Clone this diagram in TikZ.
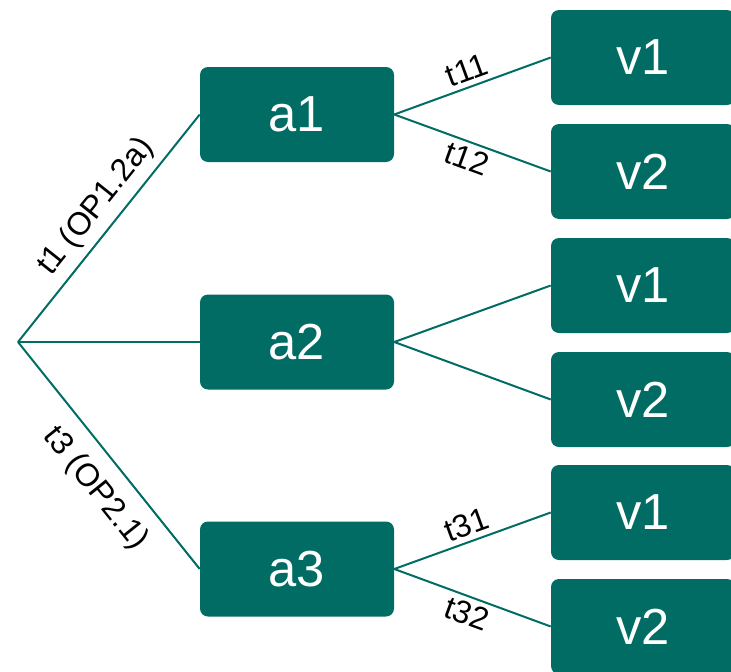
\documentclass[tikz,border=0pt]{standalone}
\usepackage{fontspec}
\setmainfont{Liberation Sans}
\definecolor{teal}{RGB}{0,108,100}
\begin{document}
\begin{tikzpicture}[x=0.75pt,y=-0.75pt,
  box/.style={fill=teal,rounded corners=6pt,text=white,minimum height=71.25pt,
    font=\fontsize{38}{40}\selectfont},
  abox/.style={box,minimum width=145.5pt},
  vbox/.style={box,minimum width=138pt},
  edge/.style={draw=teal,line width=1.5pt},
  lbl/.style={font=\fontsize{24}{28}\selectfont,sloped,midway}]
\clip(0,0)rectangle(731,671);%枠
\coordinate(root)at(18,342);%根
\node[abox](a1)at(297,114.5){a1};
\node[abox](a2)at(297,342){a2};
\node[abox](a3)at(297,569){a3};
\node[vbox](v11)at(643,57.5){v1};
\node[vbox](v12)at(643,171.5){v2};
\node[vbox](v21)at(643,285.5){v1};
\node[vbox](v22)at(643,399.5){v2};
\node[vbox](v31)at(643,512.5){v1};
\node[vbox](v32)at(643,626.5){v2};
\draw[edge](root)--(a1.west)node[lbl,pos=.53,above=2pt]{t1 (OP1.2a)};%枝
\draw[edge](root)--(a2.west);
\draw[edge](root)--(a3.west)node[lbl,pos=.56,below=8pt]{t3 (OP2.1)};
\draw[edge](a1.east)--(v11.west)node[lbl,above]{t11};
\draw[edge](a1.east)--(v12.west)node[lbl,below]{t12};
\draw[edge](a2.east)--(v21.west);
\draw[edge](a2.east)--(v22.west);
\draw[edge](a3.east)--(v31.west)node[lbl,above]{t31};
\draw[edge](a3.east)--(v32.west)node[lbl,below]{t32};
\end{tikzpicture}
\end{document}
